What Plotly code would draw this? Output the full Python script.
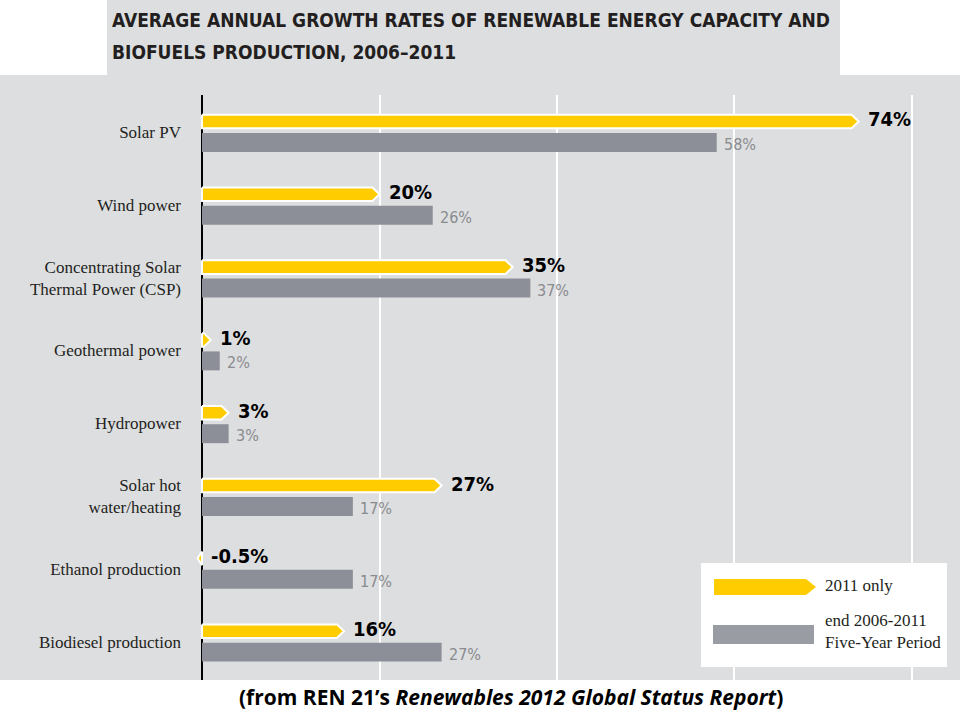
import plotly.graph_objects as go

# data
categories = [
    "Solar PV",
    "Wind power",
    "Concentrating Solar<br>Thermal Power (CSP)",
    "Geothermal power",
    "Hydropower",
    "Solar hot<br>water/heating",
    "Ethanol production",
    "Biodiesel production",
]
growth_2011 = [74, 20, 35, 1, 3, 27, -0.5, 16]
growth_5yr = [58, 26, 37, 2, 3, 17, 17, 27]
labels_2011 = ["74%", "20%", "35%", "1%", "3%", "27%", "-0.5%", "16%"]
labels_5yr = ["58%", "26%", "37%", "2%", "3%", "17%", "17%", "27%"]

# colours
yellow = '#ffcc00'
grey_bar = '#8c8f97'
bg_grey = '#dddee0'
dark = '#231f20'

W, H = 960, 720


def px(x, y):
    # pixel position -> paper coords (margins are zero)
    return x / W, 1 - y / H


pos = list(range(len(categories)))
y_yellow = [p - 0.144 for p in pos]
y_grey = [p + 0.144 for p in pos]

fig = go.Figure()

# grey bars: five-year period
fig.add_trace(go.Bar(
    x=growth_5yr, y=y_grey, orientation='h', width=0.26,
    marker=dict(color=grey_bar, line=dict(width=0)),
    showlegend=False, hoverinfo='skip'))

# yellow arrows: 2011 only
tip = 0.8
hh = 0.093
ax, ay = [], []
for v, yc in zip(growth_2011, y_yellow):
    s = 1 if v >= 0 else -1
    body = v - s * tip
    if s * body < 0:
        body = 0
    ax += [0, body, v, body, 0, 0, None]
    ay += [yc - hh, yc - hh, yc, yc + hh, yc + hh, yc - hh, None]

fig.add_trace(go.Scatter(
    x=ax, y=ay, mode='lines', fill='toself', fillcolor=yellow,
    line=dict(color='white', width=2),
    showlegend=False, hoverinfo='skip'))

sans_c = 'DejaVu Sans Condensed'
annotations = []
# value labels
for v, yc, t in zip(growth_2011, y_yellow, labels_2011):
    annotations.append(dict(
        x=max(v, 0), y=yc, text=t, xref='x', yref='y', xanchor='left',
        yanchor='middle', xshift=7, yshift=2, showarrow=False,
        font=dict(family=sans_c, size=20, color='black', weight='bold')))
for v, yc, t in zip(growth_5yr, y_grey, labels_5yr):
    annotations.append(dict(
        x=v, y=yc, text=t, xref='x', yref='y', xanchor='left',
        yanchor='middle', xshift=5, yshift=-2, showarrow=False,
        font=dict(family=sans_c, size=16, color='#8a8b8f')))

# background panels
x0, y0 = px(0, 680)
x1, y1 = px(960, 75)
shapes = [
    dict(type='rect', xref='paper', yref='paper', x0=x0, y0=y0, x1=x1, y1=y1,
         fillcolor=bg_grey, line=dict(width=0), layer='below'),
]
tx0, ty0 = px(107, 75)
tx1, ty1 = px(840, 0)
shapes.append(dict(type='rect', xref='paper', yref='paper', x0=tx0, y0=ty0,
                   x1=tx1, y1=ty1, fillcolor=bg_grey, line=dict(width=0),
                   layer='below'))

# legend box
lx0, ly0 = px(701, 667)
lx1, ly1 = px(947, 563)
shapes.append(dict(type='rect', xref='paper', yref='paper', x0=lx0, y0=ly0,
                   x1=lx1, y1=ly1, fillcolor='white', line=dict(width=0),
                   layer='above'))
pts = [px(714, 579), px(806, 579), px(816, 587), px(806, 595), px(714, 595)]
path = 'M ' + ' L '.join(f'{a:.4f},{b:.4f}' for a, b in pts) + ' Z'
shapes.append(dict(type='path', xref='paper', yref='paper', path=path,
                   fillcolor=yellow, line=dict(width=0), layer='above'))
gx0, gy0 = px(713, 644)
gx1, gy1 = px(814, 625)
shapes.append(dict(type='rect', xref='paper', yref='paper', x0=gx0, y0=gy0,
                   x1=gx1, y1=gy1, fillcolor='#9a9ca3', line=dict(width=0),
                   layer='above'))

serif = 'Liberation Serif, DejaVu Serif'
for txt, yy in [("AVERAGE ANNUAL GROWTH RATES OF RENEWABLE ENERGY CAPACITY AND", 20),
                ("BIOFUELS PRODUCTION, 2006\u20132011", 52)]:
    a, b = px(110, yy)
    annotations.append(dict(
        text=txt, x=a, y=b, xref='paper', yref='paper', xanchor='left',
        yanchor='middle', showarrow=False,
        font=dict(family=sans_c, size=19, color=dark, weight='bold')))

a, b = px(823, 585)
annotations.append(dict(text='2011 only', x=a, y=b, xref='paper', yref='paper',
                        xanchor='left', yanchor='middle', showarrow=False,
                        font=dict(family=serif, size=17, color=dark)))
a, b = px(823, 631)
annotations.append(dict(text='end 2006-2011<br>Five-Year Period', x=a, y=b,
                        xref='paper', yref='paper', xanchor='left',
                        yanchor='middle', align='left', showarrow=False,
                        font=dict(family=serif, size=17, color=dark)))
a, b = px(511, 697)
annotations.append(dict(
    text="(from REN 21\u2019s <i>Renewables 2012 Global Status Report</i>)",
    x=a, y=b, xref='paper', yref='paper', xanchor='center', yanchor='middle',
    showarrow=False,
    font=dict(family='Open Sans', size=21, color='black', weight='bold')))

fig.update_layout(
    width=W, height=H,
    margin=dict(l=0, r=0, t=0, b=0),
    paper_bgcolor='white', plot_bgcolor=bg_grey,
    shapes=shapes, annotations=annotations,
    xaxis=dict(domain=[190 / W, 1], range=[-1.352, 85.41], dtick=20,
               showticklabels=False, showgrid=True, gridcolor='white',
               gridwidth=1.5, zeroline=True, zerolinecolor='black',
               zerolinewidth=1.5, fixedrange=True),
    yaxis=dict(domain=[1 - 680 / H, 1 - 95 / H], range=[7.527, -0.508],
               tickvals=pos, ticktext=categories, ticks='',
               ticklabelstandoff=8, showgrid=False, zeroline=False,
               tickfont=dict(family=serif, size=17, color=dark),
               automargin=False, fixedrange=True),
)

# the page's default body margin would shift the figure by 8px
fig.write_html("out.html", config={'displayModeBar': False},
               post_script="document.body.style.margin='0px';")
